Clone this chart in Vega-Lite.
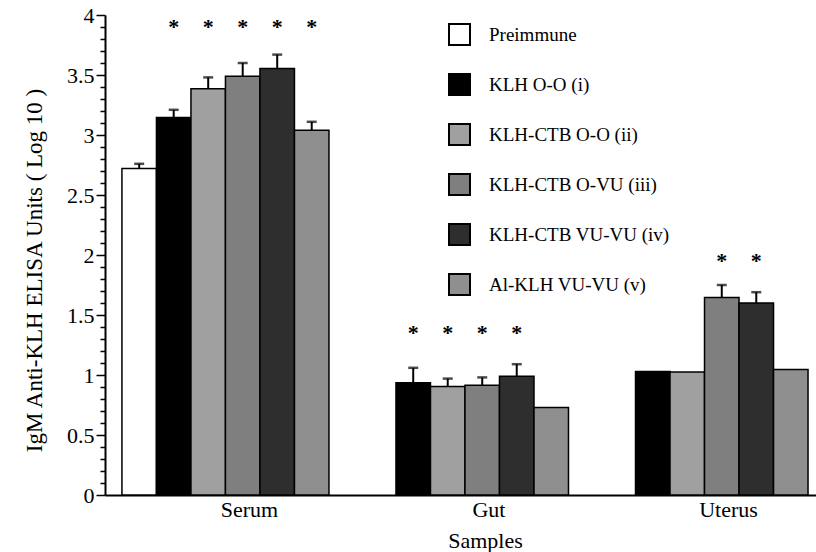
{
  "$schema": "https://vega.github.io/schema/vega-lite/v6.json",
  "autosize": "none",
  "padding": {"left": 105, "top": 15, "right": 0, "bottom": 57},
  "width": 711,
  "height": 480,
  "config": {
    "font": "Liberation Serif",
    "view": {"stroke": null},
    "axis": {"domainColor": "black", "tickColor": "black", "labelColor": "black", "titleColor": "black", "grid": false}
  },
  "data": {
    "values": [
      {"group": "Serum", "series": "Preimmune", "value": 2.72, "hi": 2.76, "star": null},
      {"group": "Serum", "series": "KLH O-O (i)", "value": 3.145, "hi": 3.21, "star": 3.93},
      {"group": "Serum", "series": "KLH-CTB O-O (ii)", "value": 3.385, "hi": 3.48, "star": 3.93},
      {"group": "Serum", "series": "KLH-CTB O-VU (iii)", "value": 3.49, "hi": 3.6, "star": 3.93},
      {"group": "Serum", "series": "KLH-CTB VU-VU (iv)", "value": 3.555, "hi": 3.67, "star": 3.93},
      {"group": "Serum", "series": "Al-KLH VU-VU (v)", "value": 3.04, "hi": 3.11, "star": 3.93},
      {"group": "Gut", "series": "KLH O-O (i)", "value": 0.935, "hi": 1.06, "star": 1.38},
      {"group": "Gut", "series": "KLH-CTB O-O (ii)", "value": 0.905, "hi": 0.97, "star": 1.38},
      {"group": "Gut", "series": "KLH-CTB O-VU (iii)", "value": 0.915, "hi": 0.98, "star": 1.38},
      {"group": "Gut", "series": "KLH-CTB VU-VU (iv)", "value": 0.99, "hi": 1.09, "star": 1.38},
      {"group": "Gut", "series": "Al-KLH VU-VU (v)", "value": 0.73, "hi": null, "star": null},
      {"group": "Uterus", "series": "KLH O-O (i)", "value": 1.03, "hi": null, "star": null},
      {"group": "Uterus", "series": "KLH-CTB O-O (ii)", "value": 1.025, "hi": null, "star": null},
      {"group": "Uterus", "series": "KLH-CTB O-VU (iii)", "value": 1.645, "hi": 1.75, "star": 1.98},
      {"group": "Uterus", "series": "KLH-CTB VU-VU (iv)", "value": 1.6, "hi": 1.69, "star": 1.98},
      {"group": "Uterus", "series": "Al-KLH VU-VU (v)", "value": 1.045, "hi": null, "star": null}
    ]
  },
  "encoding": {
    "x": {
      "field": "group", "type": "nominal",
      "scale": {"domain": ["Serum", "Gut", "Uterus"], "paddingInner": 0.1357, "paddingOuter": 0.052, "align": 0.68},
      "axis": {"title": "Samples", "labelAngle": 0, "ticks": false, "tickSize": 0, "labelFontSize": 22, "labelPadding": 4, "labelOffset": 24, "titleFontSize": 22, "titleFontWeight": "normal", "titlePadding": 10, "titleX": 380, "domainWidth": 2}
    },
    "xOffset": {
      "field": "series", "type": "nominal",
      "scale": {"domain": ["Preimmune", "KLH O-O (i)", "KLH-CTB O-O (ii)", "KLH-CTB O-VU (iii)", "KLH-CTB VU-VU (iv)", "Al-KLH VU-VU (v)"], "paddingInner": 0, "paddingOuter": 0}
    }
  },
  "layer": [
    {
      "mark": {"type": "bar", "stroke": "black", "strokeWidth": 1.5},
      "encoding": {
        "y": {
          "field": "value", "type": "quantitative",
          "scale": {"domain": [0, 4], "nice": false},
          "axis": {"orient": "left", "title": "IgM Anti-KLH ELISA Units ( Log 10 )", "titleFontSize": 23, "titleFontWeight": "normal", "titleY": 255, "values": [0, 0.5, 1, 1.5, 2, 2.5, 3, 3.5, 4], "format": "~g", "labelFontSize": 22, "tickSize": 9, "tickWidth": 1.5, "labelPadding": 2, "domainWidth": 2, "titlePadding": 20}
        },
        "fill": {
          "field": "series", "type": "nominal",
          "scale": {
            "domain": ["Preimmune", "KLH O-O (i)", "KLH-CTB O-O (ii)", "KLH-CTB O-VU (iii)", "KLH-CTB VU-VU (iv)", "Al-KLH VU-VU (v)"],
            "range": ["#ffffff", "#000000", "#a0a0a0", "#7f7f7f", "#2e2e2e", "#8f8f8f"]
          },
          "legend": {
            "title": null, "orient": "none", "legendX": 343, "legendY": 8,
            "symbolType": "square", "symbolSize": 441, "symbolStrokeColor": "black", "symbolStrokeWidth": 2,
            "labelFontSize": 19, "labelColor": "black", "labelOffset": 18, "rowPadding": 21, "padding": 0, "labelLimit": 300
          }
        }
      }
    },
    {
      "transform": [{"filter": "isValid(datum.hi)"}],
      "mark": {"type": "rule", "color": "black", "strokeWidth": 2},
      "encoding": {
        "y": {
          "field": "value", "type": "quantitative",
          "axis": {"orient": "left", "title": null, "labels": false, "domain": false, "values": [0.1, 0.2, 0.3, 0.4, 0.6, 0.7, 0.8, 0.9, 1.1, 1.2, 1.3, 1.4, 1.6, 1.7, 1.8, 1.9, 2.1, 2.2, 2.3, 2.4, 2.6, 2.7, 2.8, 2.9, 3.1, 3.2, 3.3, 3.4, 3.6, 3.7, 3.8, 3.9], "tickSize": 5, "tickWidth": 1.5}
        },
        "y2": {"field": "hi"}
      }
    },
    {
      "transform": [{"filter": "isValid(datum.hi)"}],
      "mark": {"type": "tick", "color": "black", "thickness": 2.5, "size": 10, "orient": "horizontal"},
      "encoding": {
        "y": {"field": "hi", "type": "quantitative", "axis": null}
      }
    },
    {
      "transform": [{"filter": "isValid(datum.star)"}],
      "mark": {"type": "text", "text": "*", "fontSize": 22, "fontWeight": "bold", "baseline": "alphabetic", "dy": 11, "color": "black"},
      "encoding": {
        "y": {"field": "star", "type": "quantitative", "axis": null}
      }
    }
  ],
  "resolve": {"axis": {"y": "independent"}}
}
